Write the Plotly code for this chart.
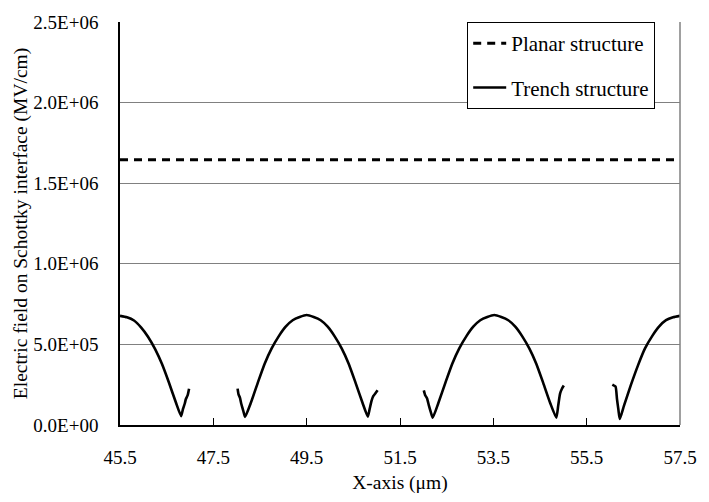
import plotly.graph_objects as go

# ---- data ----
planar_x = [45.5, 57.5]
planar_y = [1.645e6, 1.645e6]

# trench structure: four separate segments (gaps between them)
trench_x1 = [45.50, 45.65, 45.80, 45.95, 46.10, 46.25, 46.40, 46.55, 46.70, 46.81,
             46.85, 46.89, 46.91, 46.95, 46.98]
trench_y1 = [677e3, 668e3, 648e3, 606e3, 548e3, 472e3, 378e3, 262e3, 138e3, 55e3,
             100e3, 135e3, 160e3, 185e3, 225e3]

trench_x2 = [48.02, 48.04, 48.07, 48.10, 48.14, 48.18, 48.30, 48.45, 48.60, 48.75, 48.90,
             49.05, 49.20, 49.35, 49.50, 49.65, 49.80, 49.95, 50.10, 50.25, 50.40, 50.55,
             50.70, 50.81, 50.85, 50.89, 50.93, 50.97, 51.02]
trench_y2 = [226e3, 190e3, 170e3, 130e3, 90e3, 50e3, 135e3, 260e3, 380e3, 475e3, 550e3,
             610e3, 650e3, 670e3, 682e3, 670e3, 650e3, 610e3, 550e3, 475e3, 380e3, 260e3,
             135e3, 52e3, 100e3, 150e3, 180e3, 195e3, 215e3]

trench_x3 = [52.01, 52.04, 52.08, 52.12, 52.16, 52.20, 52.32, 52.47, 52.62, 52.77, 52.92,
             53.07, 53.22, 53.37, 53.52, 53.67, 53.82, 53.97, 54.12, 54.27, 54.42, 54.57,
             54.72, 54.85, 54.89, 54.93, 54.97, 55.01]
trench_y3 = [215e3, 185e3, 165e3, 120e3, 80e3, 45e3, 135e3, 260e3, 380e3, 475e3, 550e3,
             610e3, 650e3, 670e3, 682e3, 670e3, 650e3, 610e3, 550e3, 475e3, 380e3, 260e3,
             135e3, 45e3, 120e3, 195e3, 225e3, 245e3]

trench_x4 = [56.05, 56.08, 56.12, 56.15, 56.18, 56.21, 56.30, 56.45, 56.60, 56.75, 56.90,
             57.05, 57.20, 57.35, 57.50]
trench_y4 = [250e3, 245e3, 238e3, 160e3, 95e3, 37e3, 120e3, 250e3, 370e3, 475e3, 550e3,
             610e3, 650e3, 668e3, 677e3]

x_tickvals = [45.5, 47.5, 49.5, 51.5, 53.5, 55.5, 57.5]
x_ticktext = ["45.5", "47.5", "49.5", "51.5", "53.5", "55.5", "57.5"]
y_tickvals = [0, 0.5e6, 1.0e6, 1.5e6, 2.0e6, 2.5e6]
y_ticktext = ["0.0E+00", "5.0E+05", "1.0E+06", "1.5E+06", "2.0E+06", "2.5E+06"]

FONT = "Liberation Serif, Times New Roman, serif"
FS = 19

fig = go.Figure()

fig.add_trace(go.Scatter(
    x=planar_x, y=planar_y, mode="lines", name="Planar structure",
    line=dict(color="black", width=3, dash="8px,6px"),
    legendgroup="a",
))

segments = [(trench_x1, trench_y1), (trench_x2, trench_y2),
            (trench_x3, trench_y3), (trench_x4, trench_y4)]
for i, (sx, sy) in enumerate(segments):
    fig.add_trace(go.Scatter(
        x=sx, y=sy, mode="lines", name="Trench structure",
        line=dict(color="black", width=2.6, shape="spline", smoothing=0.5),
        legendgroup="b", showlegend=(i == 0),
    ))

fig.update_layout(
    width=709, height=502,
    margin=dict(l=120, r=22, t=15, b=76),
    paper_bgcolor="white", plot_bgcolor="white",
    font=dict(family=FONT, size=FS, color="black"),
    showlegend=True,
    legend=dict(
        x=0.62, y=1.0, xanchor="left", yanchor="top",
        bgcolor="white", bordercolor="black", borderwidth=1,
        font=dict(family=FONT, size=21, color="black"),
        tracegroupgap=14,
        itemwidth=33,
    ),
    xaxis=dict(
        range=[45.5, 57.5], tickvals=x_tickvals, ticktext=x_ticktext,
        ticks="inside", ticklen=7, tickcolor="black", tickwidth=1,
        showline=True, linecolor="black", linewidth=1.5,
        showgrid=False, zeroline=False, mirror=False,
        ticklabelstandoff=14,
        title=dict(text="X-axis (μm)", font=dict(family=FONT, size=19.5), standoff=9),
    ),
    yaxis=dict(
        range=[0, 2.5e6], tickvals=y_tickvals, ticktext=y_ticktext,
        ticks="", showline=True, linecolor="black", linewidth=1.5,
        showgrid=True, gridcolor="#808080", gridwidth=1,
        zeroline=False, ticklabelstandoff=16,
        title=dict(text="Electric field on Schottky interface (MV/cm)",
                   font=dict(family=FONT, size=19.5), standoff=1),
    ),
)

# gray right border of the plot area (Excel-style)
fig.add_shape(type="line", xref="paper", yref="paper", x0=1, x1=1, y0=0, y1=1,
              line=dict(color="#808080", width=1.5))

fig.write_html("out.html")
